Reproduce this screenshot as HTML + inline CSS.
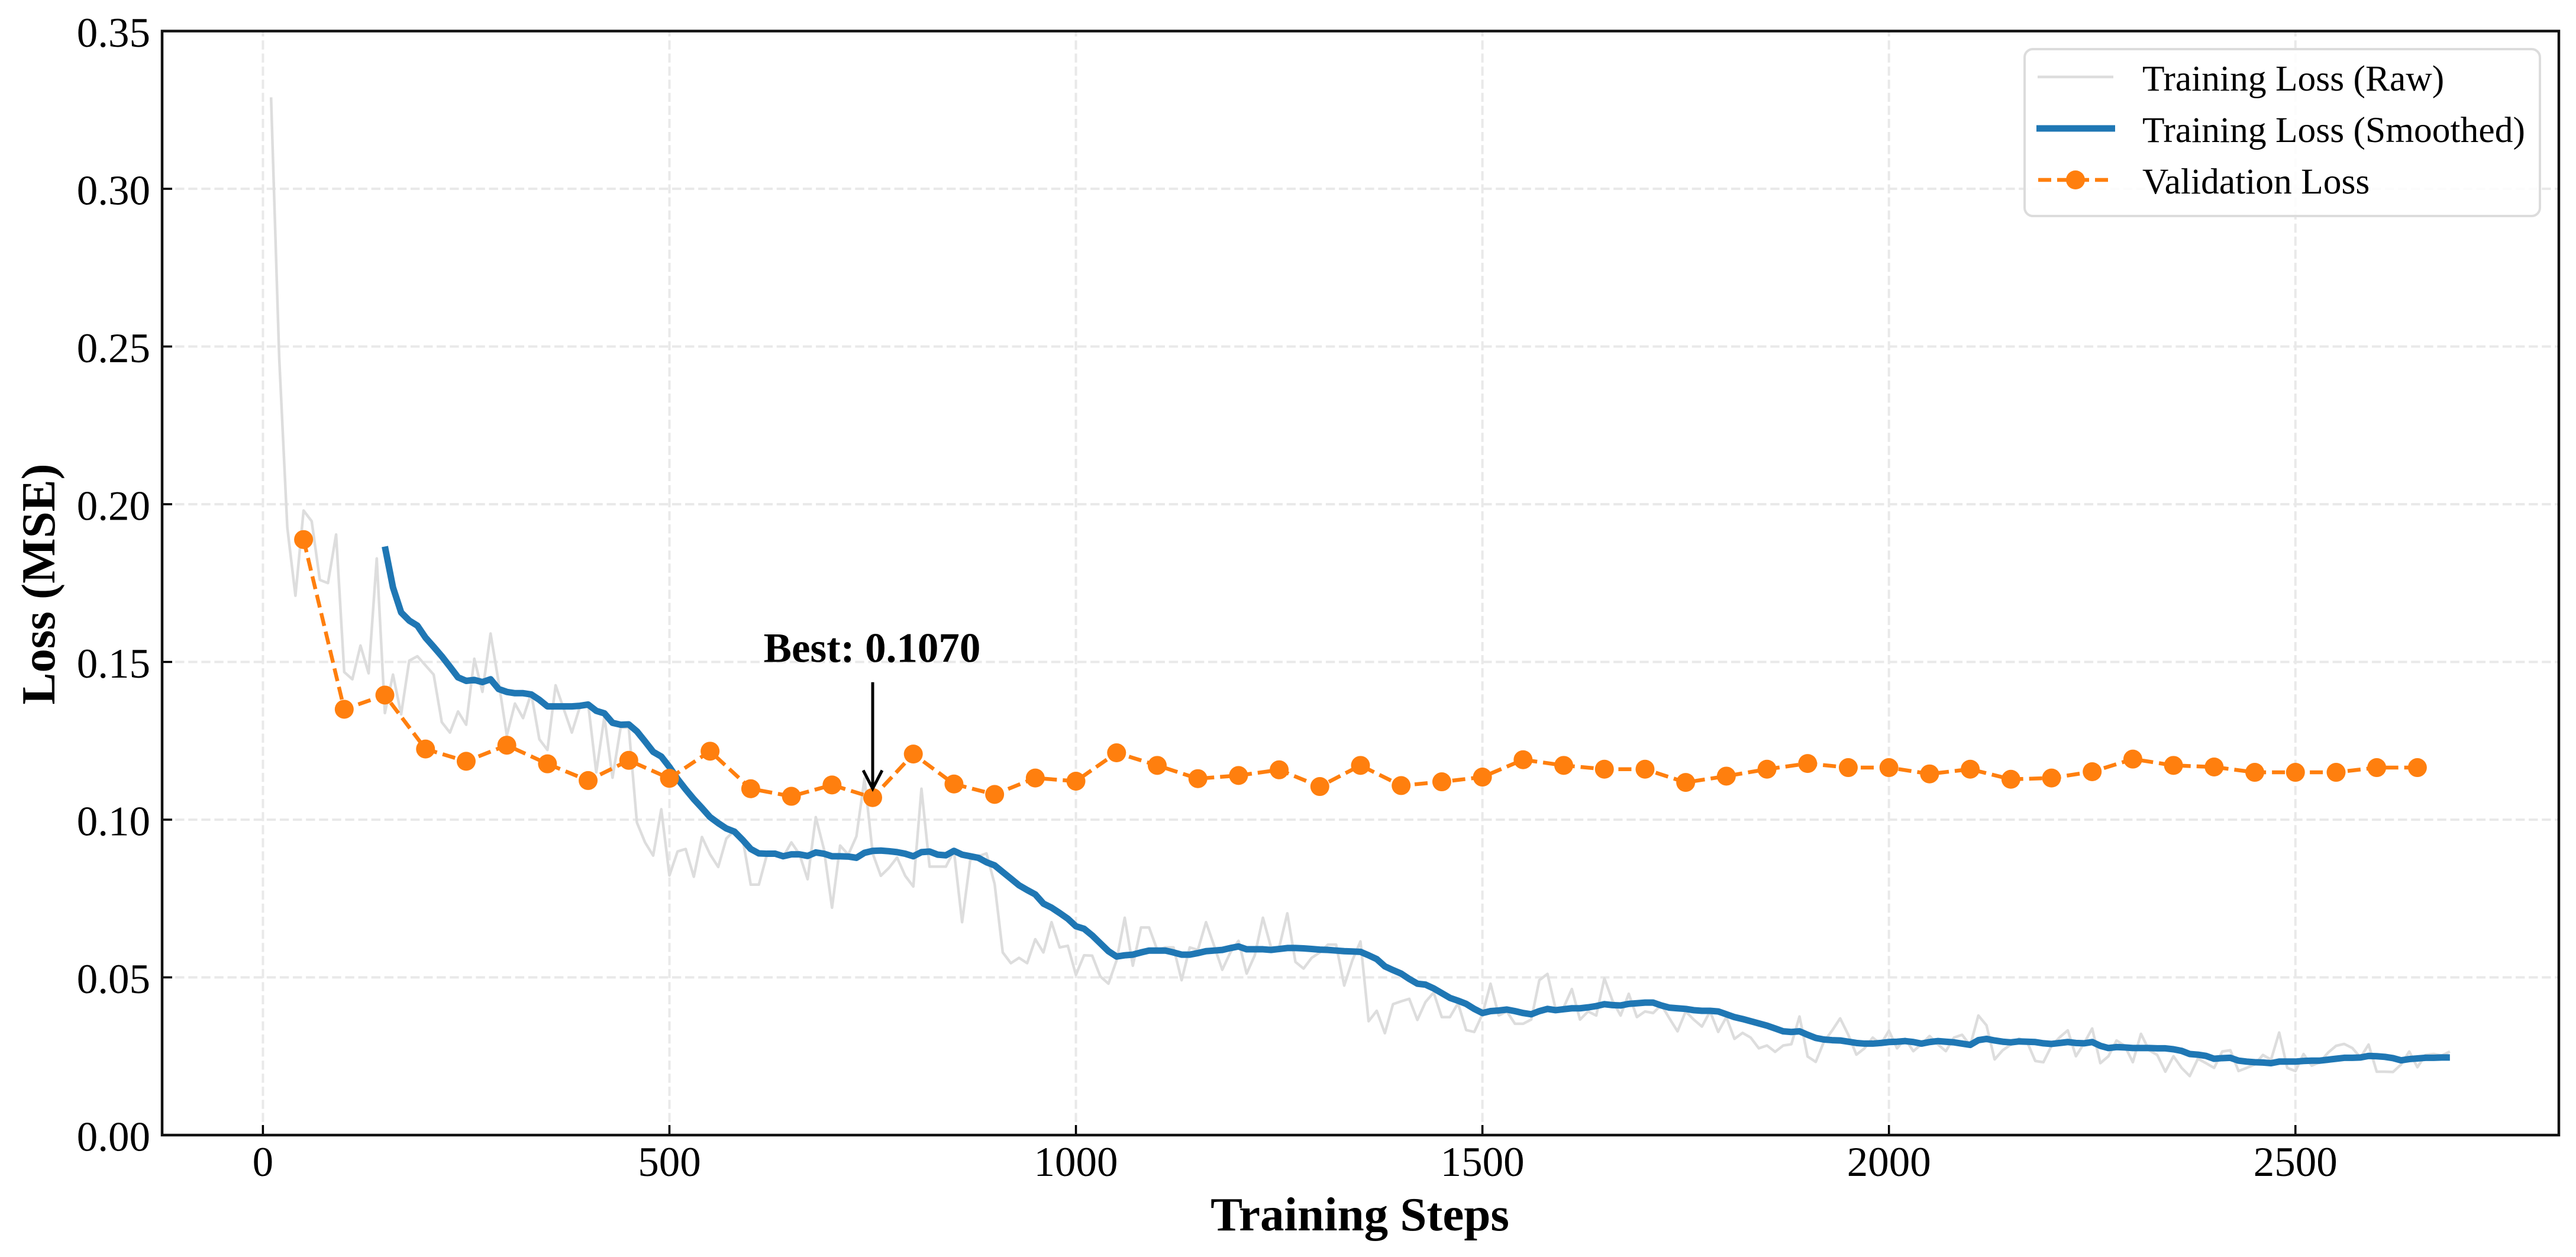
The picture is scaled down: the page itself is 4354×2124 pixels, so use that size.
<!DOCTYPE html>
<html lang="en">
<head>
<meta charset="utf-8">
<title>Training and Validation Loss</title>
<style>
html,body{margin:0;padding:0;background:#fff;width:4354px;height:2124px;overflow:hidden}
svg{display:block}
text{font-family:"Liberation Serif","Times New Roman",serif;fill:#000}
</style>
</head>
<body>
<svg id="chart" xmlns="http://www.w3.org/2000/svg" width="4354" height="2124" viewBox="0 0 4354 2124">
<rect x="0" y="0" width="4354" height="2124" fill="#fff"/>
<g id="grid"></g>
<g id="series"></g>
<g id="annotation"></g>
<g id="axes"></g>
<g id="legend"></g>
</svg>
<script>
const xTickValues = [0, 500, 1000, 1500, 2000, 2500];
const yTickValues = [0, 0.05, 0.10, 0.15, 0.20, 0.25, 0.30, 0.35];
const xTickLabels = ['0', '500', '1000', '1500', '2000', '2500'];
const yTickLabels = ['0.00', '0.05', '0.10', '0.15', '0.20', '0.25', '0.30', '0.35'];
const xDomain = [-124, 2824];
const yDomain = [0, 0.35];

const rawStart = 10;
const rawInterval = 10;
const rawLoss = [
.329,.2466,.1926,.171,.198,.1946,.176,.175,.1904,.1468,
.1445,.1552,.1464,.1828,.1338,.146,.1334,.1504,.1518,.1489,
.146,.1309,.1276,.1343,.1301,.151,.1405,.159,.1435,.1267,
.1368,.1322,.1401,.1255,.1221,.1426,.1351,.1276,.1359,.1368,
.115,.1326,.1133,.1292,.1292,.0991,.0928,.0886,.1033,.0823,
.0899,.0907,.0819,.0945,.089,.085,.094,.0966,.094,.0794,
.0794,.089,.0899,.0882,.0928,.089,.0811,.1008,.0907,.0721,
.0918,.0889,.0947,.1131,.0893,.0822,.0847,.088,.0822,.0788,
.1098,.0851,.0851,.0851,.0901,.0675,.0872,.0884,.0893,.0796,
.0579,.0545,.0562,.0545,.0621,.0579,.0675,.0595,.06,.0508,
.057,.0569,.0503,.048,.0554,.0689,.0537,.0658,.0658,.0587,
.0595,.0595,.0491,.0595,.0587,.0675,.06,.0524,.0579,.0616,
.0512,.057,.0689,.0595,.0595,.0703,.0549,.0528,.0562,.0579,
.0604,.0604,.0474,.0554,.0614,.0361,.0394,.0323,.0415,.0424,
.0432,.0365,.0422,.0452,.0374,.0374,.0418,.0333,.0327,.0383,
.048,.0379,.0392,.0353,.0353,.0366,.0491,.0511,.04,.0405,
.0463,.0366,.0392,.0379,.0497,.0426,.0379,.0448,.0374,.0392,
.0387,.0413,.037,.0329,.0392,.0366,.0344,.0392,.0327,.0374,
.0305,.0324,.0309,.0275,.0284,.0264,.0284,.0288,.0376,.0249,
.0232,.0296,.0331,.037,.0318,.0255,.0275,.0309,.0288,.0331,
.0275,.0305,.0266,.0288,.0314,.0288,.0266,.0309,.0318,.0284,
.0379,.0348,.024,.0269,.0287,.0306,.0295,.0235,.0231,.0283,
.031,.0332,.025,.0291,.0338,.0228,.025,.03,.0283,.0231,
.0321,.0269,.0254,.0201,.025,.0213,.0187,.0242,.0228,.0213,
.0265,.0269,.0203,.0213,.0224,.0254,.0239,.0325,.0213,.0203,
.0257,.022,.0231,.0261,.0283,.0289,.0276,.0246,.0287,.0201,
.0201,.02,.0224,.0265,.0215,.0254,.0257,.0252,.0265
];

const smoothStart = 150;
const smoothInterval = 10;
const smoothedLoss = [
.1866,.1736,.1657,.1631,.1615,.1577,.1548,.1518,.1485,.1451,
.144,.1443,.1436,.1445,.1414,.1405,.1401,.1401,.1397,.138,
.1359,.1359,.1359,.1359,.1361,.1365,.1345,.1337,.1307,.1301,
.1302,.128,.1248,.1215,.12,.1167,.1129,.1096,.1065,.1037,
.1008,.0989,.0972,.0962,.0936,.0907,.0893,.0892,.0892,.0884,
.089,.089,.0885,.0896,.0892,.0884,.0884,.0883,.0879,.0895,
.0901,.0902,.09,.0897,.0892,.0884,.0897,.0899,.0889,.0887,
.0901,.0889,.0884,.0879,.0865,.0855,.0834,.0813,.0792,.0777,
.0763,.0734,.0721,.0704,.0686,.0662,.0654,.0633,.0608,.0583,
.0566,.057,.0572,.0579,.0585,.0585,.0585,.0579,.0572,.0572,
.0577,.0583,.0585,.0587,.0593,.0598,.0589,.0589,.0589,.0587,
.059,.0593,.0593,.0592,.059,.0588,.0587,.0585,.0583,.0582,
.0581,.057,.0558,.0535,.0523,.0512,.0495,.0480,.0477,.0465,
.045,.0435,.0426,.0416,.04,.0387,.0393,.0395,.0398,.0393,
.0387,.0383,.0393,.04,.0396,.0399,.0402,.0402,.0405,.0409,
.0415,.0412,.0411,.0416,.0418,.042,.042,.0411,.0404,.0402,
.04,.0396,.0394,.0394,.0392,.0383,.0374,.0368,.0361,.0354,
.0347,.0338,.0329,.0327,.0329,.0318,.0308,.0303,.0301,.03,
.0296,.0292,.029,.029,.0292,.0295,.0296,.0298,.0295,.029,
.0295,.0298,.0296,.0294,.029,.0286,.0301,.0305,.03,.0296,
.0294,.0297,.0296,.0295,.0291,.0289,.0292,.0295,.0292,.0291,
.0295,.0283,.0276,.0279,.0278,.0276,.0276,.0276,.0275,.0275,
.0272,.0267,.0257,.0255,.0251,.0242,.0244,.0245,.0236,.0233,
.0231,.023,.0228,.0233,.0233,.0233,.0235,.0236,.0236,.0239,
.0242,.0245,.0245,.0246,.0251,.025,.0248,.0244,.0237,.0241,
.0243,.0245,.0245,.0246,.0246
];

const validationSteps = [
50,100,150,200,250,300,350,400,450,500,550,600,650,700,750,800,850,900,
950,1000,1050,1100,1150,1200,1250,1300,1350,1400,1450,1500,1550,1600,
1650,1700,1750,1800,1850,1900,1950,2000,2050,2100,2150,2200,2250,2300,
2350,2400,2450,2500,2550,2600,2650
];
const validationLoss = [
.1888,.135,.1395,.1224,.1185,.1236,.1177,.1124,.1188,.1131,.1217,.1098,.1074,.111,.107,.1208,.1113,.108,
.1132,.1122,.1212,.1172,.113,.114,.1158,.1105,.1172,.1108,.112,.1135,.119,.1172,
.116,.116,.1118,.1138,.116,.1178,.1165,.1165,.1145,.116,.1128,.1132,.1152,.1192,
.1172,.1167,.115,.115,.115,.1165,.1165
];

const bestStep = 750;
const bestValue = 0.107;
const bestLabel = 'Best: 0.1070';
const legendLabels = ['Training Loss (Raw)', 'Training Loss (Smoothed)', 'Validation Loss'];

const NS = 'http://www.w3.org/2000/svg';
const plotLeft = 274, plotRight = 4325, plotTop = 52.5, plotBottom = 1918;
const xScale = v => plotLeft + (v - xDomain[0]) / (xDomain[1] - xDomain[0]) * (plotRight - plotLeft);
const yScale = v => plotBottom - (v - yDomain[0]) / (yDomain[1] - yDomain[0]) * (plotBottom - plotTop);

function make(tag, attrs, parent, text) {
  const el = document.createElementNS(NS, tag);
  for (const k in attrs) el.setAttribute(k, attrs[k]);
  if (text !== undefined) el.textContent = text;
  parent.appendChild(el);
  return el;
}
function pathFrom(xs, ys) {
  return xs.map((x, i) => (i ? 'L' : 'M') + xScale(x).toFixed(2) + ' ' + yScale(ys[i]).toFixed(2)).join('');
}

const gridG = document.getElementById('grid');
const seriesG = document.getElementById('series');
const annG = document.getElementById('annotation');
const axesG = document.getElementById('axes');
const legG = document.getElementById('legend');

const gridStyle = {stroke: '#e9e9e9', 'stroke-width': 4, 'stroke-dasharray': '15.4 6.7', fill: 'none'};
xTickValues.forEach(v => {
  const g = make('line', Object.assign({x1: xScale(v), x2: xScale(v), y1: plotBottom, y2: plotTop}, gridStyle), gridG);
  
  
});
yTickValues.forEach(v => {
  const g = make('line', Object.assign({x1: plotLeft, x2: plotRight, y1: yScale(v), y2: yScale(v)}, gridStyle), gridG);
  
  
});

const rawSteps = rawLoss.map((_, i) => rawStart + i * rawInterval);
const smoothSteps = smoothedLoss.map((_, i) => smoothStart + i * smoothInterval);

const rawPath = make('path', {d: pathFrom(rawSteps, rawLoss), fill: 'none', stroke: '#dddddd', 'stroke-width': 4.5, 'stroke-linejoin': 'round'}, seriesG);



const smoothPath = make('path', {d: pathFrom(smoothSteps, smoothedLoss), fill: 'none', stroke: '#1f77b4', 'stroke-width': 11, 'stroke-linejoin': 'round'}, seriesG);



const valPath = make('path', {d: pathFrom(validationSteps, validationLoss), fill: 'none', stroke: '#ff7f0e', 'stroke-width': 6.5, 'stroke-dasharray': '22 10', 'stroke-linejoin': 'round'}, seriesG);



validationSteps.forEach((s, i) => {
  const c = make('circle', {cx: xScale(s), cy: yScale(validationLoss[i]), r: 16, fill: '#ff7f0e'}, seriesG);
  
  
});

/* annotation */
const bx = xScale(bestStep), by = yScale(bestValue);
const arrowShaft = make('line', {x1: bx, x2: bx, y1: by - 195, y2: by - 15, stroke: '#000', 'stroke-width': 5}, annG);


const arrowHead = make('path', {d: `M${bx - 16} ${by - 46}L${bx} ${by - 15}L${bx + 16} ${by - 46}`, fill: 'none', stroke: '#000', 'stroke-width': 5}, annG);


const bestText = make('text', {x: bx - 1, y: by - 229, 'text-anchor': 'middle', 'font-size': 71, 'font-weight': 'bold'}, annG, bestLabel);



/* ticks and labels */
xTickValues.forEach((v, i) => {
  const t = make('line', {x1: xScale(v), x2: xScale(v), y1: plotBottom, y2: plotBottom - 17, stroke: '#000', 'stroke-width': 3.5}, axesG);
  
  
  const l = make('text', {x: xScale(v), y: 1987, 'text-anchor': 'middle', 'font-size': 71}, axesG, xTickLabels[i]);
  
  
});
yTickValues.forEach((v, i) => {
  const t = make('line', {x1: plotLeft, x2: plotLeft + 17, y1: yScale(v), y2: yScale(v), stroke: '#000', 'stroke-width': 3.5}, axesG);
  
  
  const l = make('text', {x: 254, y: yScale(v) + 26.5, 'text-anchor': 'end', 'font-size': 71}, axesG, yTickLabels[i]);
  
  
});
const frame = make('rect', {x: plotLeft, y: plotTop, width: plotRight - plotLeft, height: plotBottom - plotTop, fill: 'none', stroke: '#111', 'stroke-width': 4.5}, axesG);



const xTitle = make('text', {x: 2298.5, y: 2079, 'text-anchor': 'middle', 'font-size': 81, 'font-weight': 'bold'}, axesG, 'Training Steps');


const yTitle = make('text', {x: 0, y: 0, transform: 'translate(92 987) rotate(-90)', 'text-anchor': 'middle', 'font-size': 81, 'font-weight': 'bold'}, axesG, 'Loss (MSE)');



/* legend */
const legBox = make('rect', {x: 3422, y: 83, width: 871, height: 282, rx: 14, ry: 14, fill: '#fff', 'fill-opacity': 0.85, stroke: '#dcdcdc', 'stroke-width': 4}, legG);



const rawKey = make('line', {x1: 3444, x2: 3572, y1: 130, y2: 130, stroke: '#dddddd', 'stroke-width': 4.5}, legG);


const smoothKey = make('line', {x1: 3442, x2: 3575, y1: 217, y2: 217, stroke: '#1f77b4', 'stroke-width': 11}, legG);


const valKey = make('line', {x1: 3445, x2: 3571, y1: 304, y2: 304, stroke: '#ff7f0e', 'stroke-width': 6.5, 'stroke-dasharray': '22 10'}, legG);


const valKeyDot = make('circle', {cx: 3508, cy: 304, r: 16, fill: '#ff7f0e'}, legG);



const legendBaselines = [153, 240, 327];
legendLabels.forEach((label, i) => {
  const t = make('text', {x: 3621, y: legendBaselines[i], 'font-size': 61.5}, legG, label);
  
  
});
</script>
</body>
</html>
